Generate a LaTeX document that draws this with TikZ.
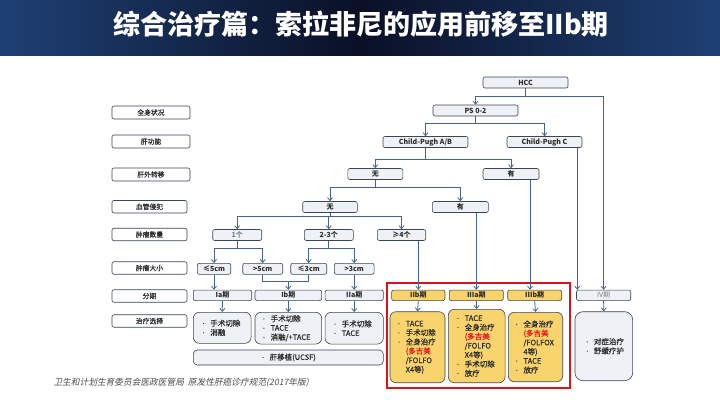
\documentclass[tikz,border=0pt]{standalone}
\usepackage{fontspec}
\setmainfont{Noto Sans CJK SC}
\newfontfamily\footfont{Noto Sans CJK SC}[FakeSlant=0.2]
\newfontfamily\medfont{Noto Sans CJK SC}[FakeBold=0.6]
\usetikzlibrary{arrows.meta,calc}
\definecolor{navyA}{HTML}{1E4074}
\definecolor{navyB}{HTML}{0A1026}
\definecolor{edgec}{HTML}{3A4656}
\definecolor{boxf}{HTML}{EEF1F5}
\definecolor{yel}{HTML}{F9D36B}
\definecolor{connc}{HTML}{44648F}
\definecolor{txt}{HTML}{2B2B2B}
\definecolor{redt}{HTML}{E8141C}
\definecolor{framec}{HTML}{D9141C}
\definecolor{foot}{HTML}{4D4D4D}
\newcommand{\myb}[1]{\makebox[9pt][l]{\raisebox{0.8pt}{\fontsize{4.5}{5}\selectfont •}}#1}
\newcommand{\myc}[1]{\hspace*{9pt}#1}
\tikzset{
 lbl/.style={draw=edgec, fill=white, rounded corners=2pt, line width=0.6pt, minimum height=12.5pt, inner sep=0pt, font=\medfont\fontsize{6.8}{7}\selectfont, text=txt},
 fbox/.style={draw=edgec, fill=boxf, rounded corners=2pt, line width=0.6pt, minimum height=11pt, inner sep=0pt, font=\fontsize{7}{7}\selectfont\bfseries, text=txt},
 ybox/.style={fbox, fill=yel},
 tbox/.style={draw=edgec, fill=boxf, rounded corners=6pt, line width=0.6pt, inner sep=0pt, font=\medfont\fontsize{7.5}{9.2}\selectfont, text=txt, align=left},
 tyel/.style={tbox, fill=yel},
 line/.style={draw=connc, line width=0.8pt},
 arr/.style={line, -{Straight Barb[length=3pt,width=5pt]}},
}
\begin{document}
\begin{tikzpicture}[x=1pt,y=-1pt]
\useasboundingbox (0,0) rectangle (720,405);
\fill[white] (0,0) rectangle (720,405);
\fill[left color=navyA, right color=navyA, middle color=navyB] (0,0) rectangle (720,55);
\node[text=white, font=\fontsize{27}{30}\selectfont\bfseries] (title) at (361,24) {综合治疗篇：索拉非尼的应用前移至IIb期};

% left labels
\node[lbl, minimum width=78pt, minimum height=13pt] (L1) at (151,112.5) {全身状况};
\node[lbl, minimum width=78pt, minimum height=13pt] (L2) at (151,141.5) {肝功能};
\node[lbl, minimum width=78pt, minimum height=13pt] (L3) at (151,174.5) {肝外转移};
\node[lbl, minimum width=75pt] (L4) at (149.5,206.7) {血管侵犯};
\node[lbl, minimum width=75pt] (L5) at (149.5,234.5) {肿瘤数量};
\node[lbl, minimum width=75pt] (L6) at (149.5,268) {肿瘤大小};
\node[lbl, minimum width=75pt] (L7) at (149.5,296) {分期};
\node[lbl, minimum width=75pt] (L8) at (149.5,321) {治疗选择};

% flow nodes
\node[fbox, minimum width=85pt] (hcc) at (525.5,82.5) {HCC};
\node[fbox, minimum width=85pt] (ps) at (475.5,110.5) {PS 0-2};
\node[fbox, minimum width=85pt] (cpab) at (425.5,142) {Child-Pugh A/B};
\node[fbox, minimum width=75pt] (cpc) at (544.5,142) {Child-Pugh C};
\node[fbox, minimum width=55pt] (wu1) at (375.3,174) {无};
\node[fbox, minimum width=56pt] (you1) at (511,174) {有};
\node[fbox, minimum width=54.6pt] (wu2) at (330,207) {无};
\node[fbox, minimum width=56pt] (you2) at (460.3,207) {有};
\node[fbox, minimum width=49pt, text=gray] (n1) at (237.2,235) {1个};
\node[fbox, minimum width=49pt] (n23) at (328.8,235) {2-3个};
\node[fbox, minimum width=48.4pt] (n4) at (401.5,235) {≥4个};
\node[fbox, minimum width=33.4pt] (s5le) at (214,268.8) {≤5cm};
\node[fbox, minimum width=40pt] (s5gt) at (262.7,268.8) {>5cm};
\node[fbox, minimum width=36pt] (s3le) at (308.7,268.8) {≤3cm};
\node[fbox, minimum width=39.7pt] (s3gt) at (354.2,268.8) {>3cm};

% stages
\node[fbox, minimum width=58.4pt, minimum height=10.5pt] (ia) at (222.5,295.3) {Ia期};
\node[fbox, minimum width=66.7pt, minimum height=10.5pt] (ib) at (288.3,295.3) {Ib期};
\node[fbox, minimum width=58.3pt, minimum height=10.5pt] (iia) at (354.2,295.3) {IIa期};
\node[ybox, minimum width=53.3pt, minimum height=10.5pt] (iib) at (418.3,295.3) {IIb期};
\node[ybox, minimum width=54pt, minimum height=10.5pt] (iiia) at (476.3,295.3) {IIIa期};
\node[ybox, minimum width=54pt, minimum height=10.5pt] (iiib) at (534.7,295.3) {IIIb期};
\node[fbox, minimum width=54.2pt, minimum height=10.5pt, text=gray, font=\fontsize{7}{7}\selectfont] (iv) at (603.6,295.3) {IV期};

% treatments
\node[tbox, minimum width=57.7pt, minimum height=31pt, text width=41.7pt] (tia) at (222.2,327.8) {\myb{手术切除}\\\myb{消融}};
\node[tbox, minimum width=66.7pt, minimum height=31.7pt, text width=53.3pt] (tib) at (288.3,328.2) {\myb{手术切除}\\\myb{TACE}\\\myb{消融/+TACE}};
\node[tbox, minimum width=58.3pt, minimum height=31.7pt, text width=42.9pt] (tiia) at (354.2,328.2) {\myb{手术切除}\\\myb{TACE}};
\node[tbox, rounded corners=4pt, minimum width=190pt, minimum height=15pt, align=center] (tucsf) at (288.3,357.5) {\myb{肝移植(UCSF)}};
\node[tyel, minimum width=55pt, minimum height=71pt, text width=41.6pt] (tiib) at (417.5,347.2) {\myb{TACE}\\\myb{手术切除}\\\myb{全身治疗}\\\myc{\textcolor{redt}{(多吉美}}\\\myc{/FOLFO}\\\myc{X4等)}};
\node[tyel, minimum width=56.7pt, minimum height=73.4pt, text width=42pt] (tiiia) at (476.7,346) {\myb{TACE}\\\myb{全身治疗}\\\myc{\textcolor{redt}{(多吉美}}\\\myc{/FOLFO}\\\myc{X4等)}\\\myb{手术切除}\\\myb{放疗}};
\node[tyel, minimum width=54.4pt, minimum height=69.4pt, text width=42pt] (tiiib) at (535.5,347) {\myb{全身治疗}\\\myc{\textcolor{redt}{(多吉美}}\\\myc{/FOLFOX}\\\myc{4等)}\\\myb{TACE}\\\myb{放疗}};
\node[tbox, rounded corners=8pt, minimum width=57.7pt, minimum height=69pt, text width=37.7pt] (tiv) at (603.8,346.2) {\myb{对症治疗}\\\myb{舒缓疗护}};

\draw[framec, line width=2pt] (387.3,283.3) rectangle (570.3,388.3);

% connectors
\draw[line] (hcc.south) -- ++(0,8) coordinate (j1);
\draw[arr] (j1) -| (ps.north);
\draw[arr] (j1) -| (iv.north);
\draw[line] (ps.south) -- ++(0,7.3) coordinate (j2);
\draw[arr] (j2) -| (cpab.north);
\draw[arr] (j2) -| (cpc.north);
\coordinate (c1) at ([xshift=-5pt]cpc.south east);
\draw[arr] (c1) -- (c1 |- iv.north);
\draw[line] (cpab.south) -- ++(0,11.5) coordinate (j3);
\draw[arr] (j3) -| (wu1.north);
\draw[arr] (j3) -| (you1.north);
\coordinate (c2) at ([xshift=19pt]you1.south);
\draw[arr] (c2) -- (c2 |- iiib.north);
\draw[line] (wu1.south) -- ++(0,7.2) coordinate (j4);
\draw[arr] (j4) -| (wu2.north);
\draw[arr] (j4) -| (you2.north);
\draw[arr] (iiia.north |- you2.south) -- (iiia.north);
\draw[line] (wu2.south) -- ++(0,3.5) coordinate (j5);
\draw[arr] (j5) -| (n1.north);
\draw[arr] (j5) -| (n23.north);
\draw[arr] (j5) -| (n4.north);
\draw[arr] (iib.north |- n4.south) -- (iib.north);
\draw[line] (n1.south) -- ++(0,7.8) coordinate (j6);
\draw[arr] (j6) -| (s5le.north);
\draw[arr] (j6) -| (s5gt.north);
\draw[line] (n23.south) -- ++(0,7.8) coordinate (j7);
\draw[arr] (j7) -| (s3le.north);
\draw[arr] (j7) -| (s3gt.north);
\draw[arr] (s5le.south) -- (s5le.south |- ia.north);
\path (s5gt.south) ++(0,6.4) coordinate (m1);
\draw[line] (s5gt.south) -- (m1) -| (s3le.south);
\draw[arr] (ib.north |- m1) -- (ib.north);
\draw[arr] (s3gt.south) -- (s3gt.south |- iia.north);
\foreach \a/\b in {ia/tia, ib/tib, iia/tiia, iib/tiib, iiia/tiiia, iiib/tiiib, iv/tiv}
  \draw[arr] (\a.south) -- (\b.north);

\node[anchor=west, text=foot, font=\footfont\fontsize{8.7}{10}\selectfont] (src) at (50,383) {卫生和计划生育委员会医政医管局\ \ 原发性肝癌诊疗规范(2017年版)};
\end{tikzpicture}
\end{document}
